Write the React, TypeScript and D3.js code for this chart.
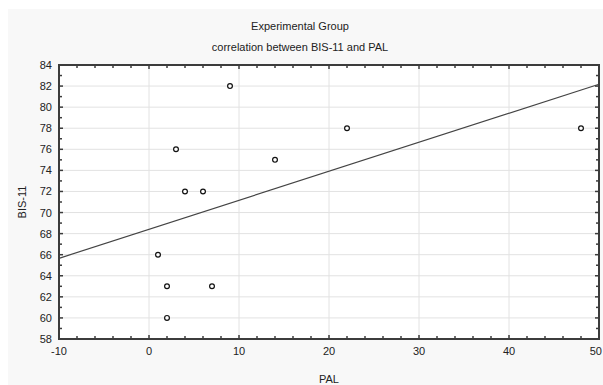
import React from "react";
import * as d3 from "d3";

const palValues = [1, 2, 2, 3, 4, 6, 7, 9, 14, 22, 48];
const bisValues = [66, 60, 63, 76, 72, 72, 63, 82, 75, 78, 78];
const xTickLabels = [-10, 0, 10, 20, 30, 40, 50];
const yTickLabels = [58, 60, 62, 64, 66, 68, 70, 72, 74, 76, 78, 80, 82, 84];
const titleLines = ["Experimental Group", "correlation between BIS-11 and PAL"];

export default function App() {
  const W = 603, H = 385;
  const left = 59, right = 599, top = 65, bottom = 339;
  const x = d3.scaleLinear().domain([-10, 50]).range([left, right]);
  const y = d3.scaleLinear().domain([58, 84]).range([bottom, top]);

  const mx = d3.mean(palValues)!;
  const my = d3.mean(bisValues)!;
  let sxy = 0, sxx = 0;
  palValues.forEach((v, i) => {
    sxy += (v - mx) * (bisValues[i] - my);
    sxx += (v - mx) * (v - mx);
  });
  const slope = sxy / sxx;
  const intercept = my - slope * mx;
  const line = d3.line<number>().x((d) => x(d)).y((d) => y(intercept + slope * d));

  const xMinor = d3.range(-10, 50.001, 2);
  const yMinor = d3.range(58, 84.001, 1);
  const font = "'Liberation Sans', Arial, sans-serif";
  const axisColor = "#3c3c3c";
  const xDomainMax = 50;

  return (
    <svg width={W} height={H} style={{ position: "absolute", left: 0, top: 0 }} fontFamily={font}>
      <rect x={0} y={0} width={W} height={H} fill="#ffffff" />
      <rect x={8} y={9} width={W - 8} height={H - 9} fill="#f8f8f8" />
      <rect x={left} y={top} width={right - left} height={bottom - top} fill="#ffffff" />
      {xTickLabels.map((t) => (
        <line key={"gx" + t} x1={x(t)} x2={x(t)} y1={top} y2={bottom} stroke="#e2e2e2" strokeWidth={1} />
      ))}
      {yTickLabels.map((t) => (
        <line key={"gy" + t} x1={left} x2={right} y1={y(t)} y2={y(t)} stroke="#e2e2e2" strokeWidth={1} />
      ))}
      <path d={line([-10, 50]) || ""} fill="none" stroke="#444" strokeWidth={1.2} />
      {palValues.map((v, i) => (
        <circle key={"p" + i} cx={x(v)} cy={y(bisValues[i])} r={2.4} fill="#fff" stroke="#111" strokeWidth={1.2} />
      ))}
      {xMinor.map((t) => {
        const major = Math.abs(t % 10) < 1e-6;
        const len = major ? 4 : 3;
        return (
          <g key={"tx" + t}>
            <line x1={x(t)} x2={x(t)} y1={bottom} y2={bottom - len} stroke={axisColor} strokeWidth={1.5} />
            <line x1={x(t)} x2={x(t)} y1={top} y2={top + len} stroke={axisColor} strokeWidth={1.5} />
          </g>
        );
      })}
      {yMinor.map((t) => {
        const major = t % 2 === 0;
        const len = major ? 4 : 3;
        return (
          <g key={"ty" + t}>
            <line x1={left} x2={left + len} y1={y(t)} y2={y(t)} stroke={axisColor} strokeWidth={1.5} />
            <line x1={right} x2={right - len} y1={y(t)} y2={y(t)} stroke={axisColor} strokeWidth={1.5} />
          </g>
        );
      })}
      <rect x={left} y={top} width={right - left} height={bottom - top} fill="none" stroke={axisColor} strokeWidth={2} />
      {xTickLabels.map((t) => (
        <text
          key={"lx" + t}
          x={t === xDomainMax ? W - 1 : x(t)}
          y={bottom + 16}
          textAnchor={t === xDomainMax ? "end" : "middle"}
          fontSize={11}
          fill="#222"
        >
          {t}
        </text>
      ))}
      {yTickLabels.map((t) => (
        <text key={"ly" + t} x={left - 7} y={y(t) + 4} textAnchor="end" fontSize={11} fill="#222">
          {t}
        </text>
      ))}
      <text x={300} y={30} textAnchor="middle" fontSize={11} fill="#222">
        {titleLines[0]}
      </text>
      <text x={300} y={51} textAnchor="middle" fontSize={11} fill="#222">
        {titleLines[1]}
      </text>
      <text x={(left + right) / 2} y={383} textAnchor="middle" fontSize={11} fill="#222">
        PAL
      </text>
      <text transform={`translate(26,${(top + bottom) / 2}) rotate(-90)`} textAnchor="middle" fontSize={11} fill="#222">
        BIS-11
      </text>
    </svg>
  );
}
